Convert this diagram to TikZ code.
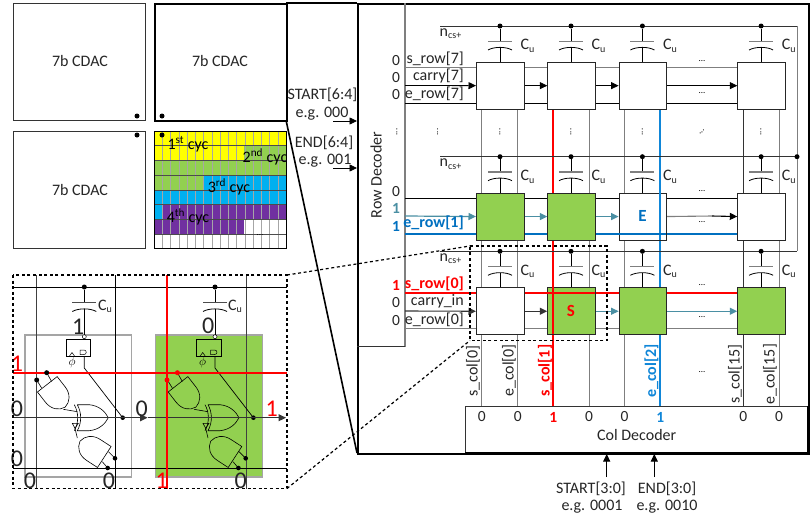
\documentclass[tikz,border=0pt]{standalone}
\usepackage{fontspec}
\setmainfont{Carlito}
\usetikzlibrary{arrows.meta}
\definecolor{cellgreen}{HTML}{92D050}
\definecolor{tealc}{HTML}{4A8FA3}
\definecolor{blue1}{HTML}{0070C0}
\definecolor{blue2}{HTML}{0F86D8}
\definecolor{red1}{HTML}{FF0000}
\definecolor{gr}{HTML}{7F7F7F}
\definecolor{yel}{HTML}{FFFF00}
\definecolor{cy}{HTML}{00B0F0}
\definecolor{pu}{HTML}{7030A0}
\tikzset{
 x=1pt,y=-1pt,
 lab/.style={font=\fontsize{16}{16}\selectfont,inner sep=0pt,text=black!85},
 labb/.style={font=\fontsize{16}{16}\selectfont\bfseries,inner sep=0pt},
 bit/.style={font=\fontsize{15.5}{16}\selectfont,inner sep=0pt,text=black!85},
 bitb/.style={font=\fontsize{15.5}{16}\selectfont\bfseries,inner sep=0pt},
 bigbit/.style={font=\fontsize{24}{24}\selectfont,inner sep=0pt,text=black!85},
 dotsn/.style={font=\fontsize{9}{9}\selectfont,inner sep=0pt},
 cdacbox/.style={draw=black!80,line width=1pt,fill=white},
 thickb/.style={draw=black,line width=1.6pt},
 cellw/.style={draw=black!85,line width=.9pt,fill=white,minimum width=47.6pt,minimum height=47pt,inner sep=0pt},
 cellg/.style={cellw,fill=cellgreen},
 blk/.style={draw=black,line width=.8pt},
 gry/.style={draw=gr,line width=.9pt},
 tip/.style={-{Triangle[length=7.5pt,width=7pt]}},
 jdot/.style={circle,fill=black,inner sep=0pt,minimum size=5pt},
 dash2/.style={draw=black,line width=1.2pt,dash pattern=on 3pt off 2.6pt},
}
\newcommand{\capac}[4]{% name, x, y, bottom y
 \node[jdot] (#1d) at (#2,#3) {};
 \draw[blk] (#1d) -- (#2,#3+15);
 \draw[gr,line width=1.3pt] (#2-12,#3+15.2) -- (#2+12,#3+15.2);
 \draw[blk] (#2-12,#3+24) .. controls (#2-6,#3+20.5) and (#2+6,#3+20.5) .. (#2+12,#3+24);
 \draw[blk] (#2,#3+21.5) -- (#2,#4);
 \node[lab,anchor=west] at (#2+20.5,#3+20) {C\textsubscript{\fontsize{10}{10}\selectfont u}};
}
\newcommand{\andg}[3]{% x,y,angle
 \begin{scope}[shift={(#1,#2)},rotate=#3]
 \draw[black,line width=.6pt] (0,-12.5) -- (13,-12.5) .. controls (22,-12.5) and (28,-7) .. (29,0) .. controls (28,7) and (22,12.5) .. (13,12.5) -- (0,12.5) -- cycle;
 \end{scope}
}
\newcommand{\cellschem}[2]{% dx, name
 \begin{scope}[shift={(#1,0)}]
 \draw[black,line width=.7pt] (84.3,356) -- (84.3,368) -- (122.7,417.7);
 \node[jdot,minimum size=4.6pt] (#2o) at (122.7,417.7) {};
 \draw[black,line width=.7pt] (66,339) rectangle (90.3,356);
 \draw[black,line width=.5pt,fill=white] (84.3,336.7) circle (2pt);
 \draw[black,line width=.5pt] (80,354.5) -- (80,350) -- (84,350) .. controls (87,350) and (87,354.5) .. (84,354.5) -- cycle;
 \draw[black,line width=.5pt] (69.5,356) -- (72,352.5) -- (74.5,356);
 \node[inner sep=0pt,font=\fontsize{13}{13}\selectfont] at (72,362.5) {$\phi$};
 \andg{47.3}{384.3}{-52}
 \andg{104.3}{457}{147}
 \draw[black,line width=.6pt] (36.7,380) -- (41.6,388);
 \draw[black,line width=.6pt] (46.7,372.7) -- (51.6,381.5);
 \draw[black,line width=.6pt] (63.3,409.3) -- (77.3,411.7);
 \draw[black,line width=.6pt] (115,458.3) -- (108.4,451.7);
 \draw[black,line width=.6pt] (107.7,468) -- (102.3,461.7);
 \draw[black,line width=.6pt] (77.3,438) -- (75,428.3);
 \begin{scope}[shift={(77.3,417.7)}]
 \draw[black,line width=.6pt] (0,-13) -- (12,-13) .. controls (22,-12) and (28,-6) .. (31,0) .. controls (28,6) and (22,12) .. (12,13) -- (0,13) .. controls (4.5,5) and (4.5,-5) .. (0,-13);
 \draw[black,line width=.6pt] (-3,-13) .. controls (1.5,-5) and (1.5,5) .. (-3,13);
 \draw[black,line width=.6pt] (-5,5.6) -- (1,5.6) -- (-2.3,10.6) -- cycle;
 \end{scope}
 \node[jdot,minimum size=4.6pt] at (115,458.3) {};
 \node[jdot,minimum size=4.6pt] at (107.7,468) {};
 \end{scope}
}
\begin{document}
\begin{tikzpicture}
\useasboundingbox (0,0) rectangle (812,514);
\fill[white] (0,0) rectangle (812,514);
% CDAC boxes
\node[cdacbox,minimum width=132pt,minimum height=117pt,inner sep=0pt,anchor=north west] (c1) at (13,3) {};
\node[lab] at (80,61) {7b CDAC};
\node[cdacbox,minimum width=132pt,minimum height=117pt,inner sep=0pt,anchor=north west] (c3) at (13,131) {};
\node[lab] at (80,190) {7b CDAC};
\node[draw=black,line width=1.5pt,minimum width=132pt,minimum height=117pt,inner sep=0pt,anchor=north west] (c2) at (154,3) {};
\node[lab] at (220,61) {7b CDAC};
\node[jdot] at (137,116) {};
\node[jdot] at (162,116) {};
\node[jdot] at (137,135) {};
% grid
\fill[yel] (154,131) rectangle (286,160.4);
\fill[cellgreen] (244,145.7) rectangle (286,160.4);
\fill[cellgreen] (154,160) rectangle (286,175);
\fill[cellgreen] (154,175) rectangle (203,189.8);
\fill[cy] (203,175) rectangle (286,189.8);
\fill[cy] (154,189.8) rectangle (286,204.5);
\fill[cy] (154,204.5) rectangle (162,219.2);
\fill[pu] (162,204.5) rectangle (286,219.2);
\fill[pu] (154,219.2) rectangle (244,233.9);
\draw[black!35,line width=.5pt] \foreach \i in {1,...,15} {(154+\i*8.25,131) -- (154+\i*8.25,248)};
\draw[black!70,line width=.6pt] \foreach \i in {1,...,7} {(154,131+\i*14.7) -- (286,131+\i*14.7)};
\node[draw=black,line width=1.4pt,minimum width=132pt,minimum height=117pt,inner sep=0pt,anchor=north west] (c4) at (154,131) {};
\node[jdot] at (162,135) {};
\node[lab,text=black] at (188,144) {1\textsuperscript{st} cyc};
\node[lab,text=black] at (265,157) {2\textsuperscript{nd} cyc};
\node[lab,text=black] at (229,187) {3\textsuperscript{rd} cyc};
\node[lab,text=black] at (188,217) {4\textsuperscript{th} cyc};
\node[dotsn] at (260,235) {...};
% main frame
\draw[thickb] (286,3) -- (357,3);
\draw[thickb] (286,120) -- (357,453);
\node[draw=black,line width=1.6pt,minimum width=451pt,minimum height=450pt,inner sep=0pt,anchor=north west] (main) at (357,3) {};
% row decoder
\draw[gr,line width=1.1pt] (405,3) -- (405,346.5);
\draw[black!80,line width=.9pt] (357,346.5) -- (405,346.5);
\node[lab,rotate=90] at (376,175) {Row Decoder};
% column wires (behind cells)
\foreach \x in {481.8,517.7,589,624.5} \draw[gry] (\x,109) -- (\x,405.5);
\draw[black!80,line width=.9pt] (743.3,109) -- (743.3,405.5);
\draw[gry] (779,109) -- (779,405.5);
\fill[red1] (552.3,109) rectangle (554.3,405.5);
\fill[blue2] (659.2,109) rectangle (661.2,405.5);
% ncs lines
\foreach \y in {26,156.7,251.3} {\draw[black!80,line width=.9pt] (440,\y) -- (797,\y);
 \node[lab,anchor=west] at (439.5,\y+7.5) {n\textsubscript{\fontsize{10}{10}\selectfont cs+}};}
\draw[gry] (797,26) -- (797,251.3);
\node[jdot] at (797,156.7) {};
% row wires
\draw[gry] (405,67.7) -- (737,67.7);
\draw[blk] (405,103.3) -- (737,103.3);
\draw[blk] (405,198.3) -- (737,198.3);
\fill[blue1] (405,232.7) rectangle (737,234.7);
\fill[red1] (405,292) rectangle (737,294);
\draw[gry] (405,328.7) -- (737,328.7);
% cells
\node[cellw,anchor=north west] (r7a) at (476,61.7) {};
\node[cellw,anchor=north west] (r7b) at (547.3,61.7) {};
\node[cellw,anchor=north west] (r7c) at (618.6,61.7) {};
\node[cellw,anchor=north west] (r7d) at (737.3,61.7) {};
\node[cellg,anchor=north west] (r1a) at (476,192.6) {};
\node[cellg,anchor=north west] (r1b) at (547.3,192.6) {};
\node[cellw,anchor=north west] (r1c) at (618.6,192.6) {};
\node[cellw,anchor=north west] (r1d) at (737.3,192.6) {};
\node[cellw,anchor=north west] (r0a) at (476,287.3) {};
\node[cellg,anchor=north west] (r0b) at (547.3,287.3) {};
\node[cellg,anchor=north west] (r0c) at (618.6,287.3) {};
\node[cellg,anchor=north west] (r0d) at (737.3,287.3) {};
% over-cell wires
\fill[blue2] (659.2,192.6) rectangle (661.2,239.6);
\fill[blue1] (618.6,232.7) rectangle (666.2,234.7);
\fill[red1] (547.3,292) rectangle (594.9,294);
\fill[red1] (552.3,287.3) rectangle (554.3,334.3);
\node[font=\fontsize{17}{17}\selectfont\bfseries,text=red1,inner sep=0pt] at (571,311) {S};
\node[font=\fontsize{17}{17}\selectfont\bfseries,text=blue1,inner sep=0pt] at (642.4,216) {E};
% capacitors
\foreach \n/\x in {a/500,b/571,c/642.4,d/761.1} {
 \capac{t\n}{\x}{26}{61.7}
 \capac{m\n}{\x}{156.7}{192.6}
 \capac{l\n}{\x}{251.3}{287.3}
}
% carry arrows
\coordinate (in7) at (405,85.5);
\coordinate (in1) at (405,216);
\coordinate (in0) at (405,311);
\draw[blk,tip] (in7) -- (r7a.west);
\draw[blk,tip] (r7a.east) -- (r7b.west);
\draw[blk,tip] (r7b.east) -- (r7c.west);
\draw[blk,tip] (r7c.east) -- (r7d.west);
\draw[tealc,line width=1.2pt,tip] (in1) -- (r1a.west);
\draw[tealc,line width=1.2pt,tip] (r1a.east) -- (r1b.west);
\draw[tealc,line width=1.2pt,tip] (r1b.east) -- (r1c.west);
\draw[gr,line width=1.1pt] (r1c.east) -- (712,216);
\draw[black,line width=1.1pt,tip] (712,216) -- (r1d.west);
\draw[black!80,line width=1.1pt,tip] (in0) -- (r0a.west);
\draw[black!80,line width=1.1pt,tip] (r0a.east) -- (r0b.west);
\draw[tealc,line width=1.2pt,tip] (r0b.east) -- (r0c.west);
\draw[tealc,line width=1.2pt,tip] (r0c.east) -- (r0d.west);
% row labels
\node[bit] at (396,61) {0}; \node[bit] at (396,78) {0}; \node[bit] at (396,95) {0};
\node[lab,anchor=east] at (464,59) {s\_row[7]};
\node[lab,anchor=east] at (464,76) {carry[7]};
\node[lab,anchor=east] at (464,94) {e\_row[7]};
\node[bit] at (396,191.7) {0};
\node[bitb,text=tealc] at (396,208) {1};
\node[bitb,text=blue1] at (396,226) {1};
\node[labb,anchor=east,text=blue1] at (464,223) {e\_row[1]};
\node[bitb,text=red1] at (396,285) {1};
\node[bit] at (396,303) {0}; \node[bit] at (396,321) {0};
\node[labb,anchor=east,text=red1] at (464,284) {s\_row[0]};
\node[lab,anchor=east] at (464,301) {carry\_in};
\node[lab,anchor=east] at (464,320) {e\_row[0]};
% ellipses
\foreach \y in {61,93,191,222,285,317} \node[dotsn] at (702,\y) {...};
\node[dotsn] at (702,372) {...}; \node[dotsn] at (702,414) {...};
\foreach \x in {397,437.7,500,571,642.4,761} \node[dotsn,rotate=90] at (\x,132) {...};
\node[dotsn,rotate=45] at (702,132) {...};
% col decoder
\node[draw=black!80,line width=1pt,fill=white,minimum width=343pt,minimum height=47.5pt,inner sep=0pt,anchor=north west] (cold) at (465,405.5) {};
\draw[black,line width=1.6pt] (465,453) -- (808,453) -- (808,405.5);
\node[lab] at (636.7,435) {Col Decoder};
\foreach \x in {481.8,517.7,589,624.5,743.3,779} \node[bit] at (\x,417) {0};
\node[bitb,text=red1] at (553.3,417) {1};
\node[bitb,text=blue2] at (660.2,417) {1};
\node[lab,rotate=90,anchor=west] at (473,397) {s\_col[0]};
\node[lab,rotate=90,anchor=west] at (509,397) {e\_col[0]};
\node[labb,rotate=90,anchor=west,text=red1] at (545,397) {s\_col[1]};
\node[labb,rotate=90,anchor=west,text=blue2] at (651.5,398) {e\_col[2]};
\node[lab,rotate=90,anchor=west] at (735,404) {s\_col[15]};
\node[lab,rotate=90,anchor=west] at (770,405) {e\_col[15]};
% inputs
\node[lab] at (322.5,95) {START[6:4]};
\node[lab] at (322,114) {e.g. 000};
\coordinate (a1) at (333,121);
\draw[blk,tip] (a1) -- (357,121);
\node[lab] at (324,142.7) {END[6:4]};
\node[lab] at (325,160.7) {e.g. 001};
\coordinate (a2) at (333,168);
\draw[blk,tip] (a2) -- (357,168);
\node[lab] (st) at (591,489) {START[3:0]};
\node[lab] at (592,507) {e.g. 0001};
\node[lab] (en) at (667,489) {END[3:0]};
\node[lab] at (667,507) {e.g. 0010};
\coordinate (a3) at (606.7,477);
\coordinate (a4) at (654.3,477);
\draw[blk,tip] (a3) -- (606.7,454);
\draw[blk,tip] (a4) -- (654.3,454);
% dashed
\draw[dash2] (470,246) -- (607,246) -- (607,340.5) -- (470,340.5) -- cycle;
\draw[dash2] (287,275) -- (470,246);
\draw[dash2] (287,488.5) -- (470,340.5);
% schematic
\fill[white] (13,275) rectangle (287,489);
\draw[gr!70,line width=1.5pt] (25,335) rectangle (131.5,477);
\draw[gr!70,line width=1.5pt,fill=cellgreen] (155.7,335) rectangle (262.7,477);
\draw[black!75,line width=.9pt] (36.7,275) -- (36.7,489);
\draw[black,line width=.8pt] (115.3,275) -- (115.3,489);
\draw[black!75,line width=.9pt] (246,275) -- (246,489);
\draw[black,line width=.8pt] (13,287) -- (287,287);
\draw[black,line width=.8pt] (13,468.7) -- (287,468.7);
\cellschem{0}{p}
\cellschem{130.7}{q}
\draw[black!80,line width=1.3pt,tip] (13,417.7) -- (147.5,417.7);
\draw[black!80,line width=1pt,tip] (147.5,417.7) -- (286,417.7);
\fill[red1] (13,372.3) rectangle (287,374.3);
\fill[red1] (166,275) rectangle (168,489);
\node[jdot,fill=red1] at (167,380) {};
\node[jdot,fill=red1] at (177.4,372.7) {};
\node[jdot] at (36.7,380) {};
\node[jdot] at (46.7,372.7) {};
\foreach \n/\x in {u/84.3,v/215} {
 \node[jdot] (s\n) at (\x,287) {};
 \draw[blk] (s\n) -- (\x,302);
 \draw[black!70,line width=1pt] (\x-12,302.3) -- (\x+12,302.3);
 \draw[blk] (\x-12,311.5) .. controls (\x-6,308) and (\x+6,308) .. (\x+12,311.5);
 \draw[blk] (\x,309) -- (\x,334.7);
}
\node[lab,anchor=west] at (98,306.5) {C\textsubscript{\fontsize{10}{10}\selectfont u}};
\node[lab,anchor=west] at (228,306.5) {C\textsubscript{\fontsize{10}{10}\selectfont u}};
\node[bigbit] at (78.3,326.5) {1};
\node[bigbit] at (208.3,326) {0};
\node[bigbit,text=red1] at (17,364) {1};
\node[bigbit] at (17,409) {0};
\node[bigbit] at (141.7,409) {0};
\node[bigbit,text=red1] at (271.7,408.3) {1};
\node[bigbit] at (17,459) {0};
\node[bigbit] at (30,480.7) {0};
\node[bigbit] at (109,480.7) {0};
\node[bigbit,text=red1] at (161.7,480.7) {1};
\node[bigbit] at (240.7,480.7) {0};
\draw[dash2] (13,275) rectangle (287,488.5);
\end{tikzpicture}
\end{document}
